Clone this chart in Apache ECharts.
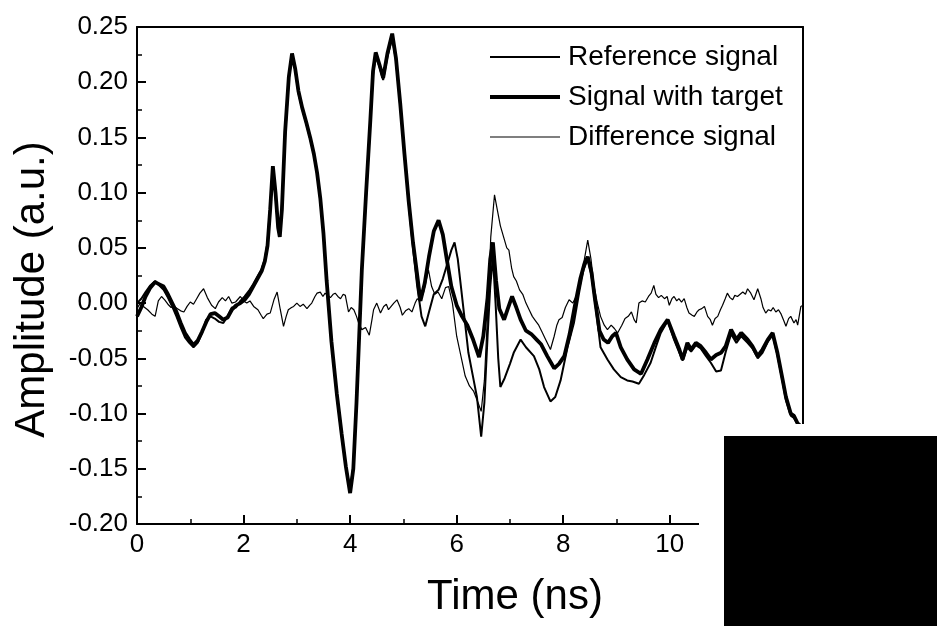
<!DOCTYPE html>
<html>
<head>
<meta charset="utf-8">
<script src="https://cdn.jsdelivr.net/npm/echarts@6/dist/echarts.min.js"></script>
<style>
  html, body { margin: 0; padding: 0; background: #fff; }
  #chart { width: 937px; height: 626px; }
</style>
</head>
<body>
<div id="chart"></div>
<script>
// Time samples (ns) and amplitudes (a.u.) for each trace
const targetTime = [0.00,0.08,0.16,0.25,0.34,0.42,0.50,0.58,0.66,0.74,0.82,0.90,0.98,1.06,1.14,1.22,1.30,1.38,1.46,1.54,1.62,1.70,1.78,1.86,1.94,2.02,2.10,2.18,2.26,2.34,2.40,2.45,2.50,2.55,2.60,2.65,2.68,2.72,2.78,2.85,2.91,2.97,3.03,3.10,3.18,3.25,3.32,3.38,3.44,3.50,3.56,3.65,3.75,3.84,3.92,4.00,4.06,4.12,4.17,4.22,4.30,4.38,4.43,4.48,4.55,4.62,4.70,4.79,4.86,4.94,5.02,5.10,5.18,5.26,5.32,5.40,5.48,5.57,5.66,5.74,5.82,5.90,6.00,6.10,6.20,6.30,6.42,6.50,6.58,6.63,6.68,6.74,6.80,6.89,6.96,7.04,7.12,7.20,7.30,7.40,7.50,7.58,7.70,7.83,7.92,8.02,8.12,8.22,8.32,8.40,8.46,8.53,8.60,8.68,8.76,8.84,8.92,8.99,9.08,9.20,9.33,9.46,9.58,9.71,9.83,9.96,10.08,10.18,10.24,10.33,10.40,10.49,10.58,10.68,10.77,10.87,10.96,11.05,11.15,11.25,11.34,11.46,11.55,11.65,11.74,11.84,11.93,12.02,12.12,12.18,12.27,12.33,12.40,12.45];
const targetAmp = [-0.012,-0.004,0.006,0.014,0.019,0.017,0.015,0.008,0.000,-0.008,-0.018,-0.027,-0.033,-0.038,-0.034,-0.026,-0.017,-0.010,-0.009,-0.012,-0.015,-0.013,-0.006,-0.002,0.000,0.003,0.008,0.015,0.022,0.029,0.038,0.052,0.085,0.124,0.100,0.068,0.060,0.085,0.155,0.205,0.226,0.212,0.192,0.177,0.163,0.150,0.135,0.118,0.095,0.063,0.020,-0.035,-0.082,-0.118,-0.148,-0.172,-0.150,-0.090,-0.030,0.030,0.100,0.166,0.210,0.227,0.216,0.204,0.226,0.244,0.222,0.181,0.135,0.092,0.055,0.025,0.002,0.018,0.042,0.065,0.075,0.062,0.038,0.015,-0.002,-0.012,-0.020,-0.032,-0.049,-0.030,0.005,0.040,0.055,0.020,-0.005,-0.015,-0.005,0.006,-0.004,-0.015,-0.025,-0.028,-0.033,-0.037,-0.048,-0.059,-0.055,-0.048,-0.028,-0.002,0.022,0.036,0.042,0.028,0.002,-0.025,-0.033,-0.036,-0.030,-0.027,-0.040,-0.051,-0.060,-0.064,-0.051,-0.036,-0.024,-0.015,-0.030,-0.042,-0.051,-0.036,-0.042,-0.036,-0.039,-0.045,-0.051,-0.047,-0.045,-0.039,-0.024,-0.033,-0.027,-0.033,-0.039,-0.048,-0.042,-0.033,-0.027,-0.045,-0.070,-0.085,-0.100,-0.102,-0.109,-0.111];

const referenceTime = [0.00,0.08,0.16,0.25,0.34,0.42,0.50,0.58,0.66,0.74,0.82,0.90,0.98,1.06,1.14,1.22,1.30,1.38,1.46,1.54,1.62,1.70,1.78,1.86,1.94,2.02,2.10,2.18,2.26,2.34,2.40,2.45,2.50,2.55,2.60,2.65,2.68,2.72,2.78,2.85,2.91,2.97,3.03,3.10,3.18,3.25,3.32,3.38,3.44,3.50,3.56,3.65,3.75,3.84,3.92,4.00,4.06,4.12,4.17,4.22,4.30,4.38,4.43,4.48,4.55,4.62,4.70,4.79,4.86,4.94,5.02,5.10,5.18,5.26,5.34,5.41,5.48,5.57,5.66,5.74,5.82,5.90,5.96,6.02,6.08,6.15,6.22,6.30,6.38,6.46,6.52,6.58,6.63,6.68,6.73,6.78,6.82,6.90,7.00,7.07,7.20,7.30,7.45,7.55,7.64,7.76,7.85,7.95,8.08,8.20,8.30,8.38,8.46,8.53,8.60,8.70,8.83,8.95,9.08,9.20,9.30,9.42,9.52,9.64,9.75,9.83,9.96,10.08,10.18,10.24,10.33,10.40,10.49,10.58,10.68,10.77,10.87,10.96,11.05,11.15,11.25,11.34,11.46,11.55,11.65,11.74,11.84,11.93,12.02,12.12,12.18,12.27,12.33,12.40,12.45];
const referenceAmp = [0.000,0.004,0.010,0.016,0.020,0.016,0.012,0.005,-0.003,-0.012,-0.022,-0.031,-0.036,-0.040,-0.036,-0.027,-0.015,-0.012,-0.014,-0.017,-0.018,-0.012,-0.004,-0.004,0.002,0.006,0.011,0.017,0.024,0.031,0.040,0.055,0.088,0.120,0.097,0.066,0.062,0.088,0.152,0.203,0.224,0.211,0.190,0.176,0.162,0.149,0.134,0.117,0.094,0.062,0.019,-0.036,-0.083,-0.120,-0.148,-0.168,-0.148,-0.088,-0.030,0.030,0.098,0.164,0.207,0.224,0.214,0.202,0.223,0.240,0.220,0.180,0.135,0.090,0.050,0.015,-0.012,-0.021,-0.008,0.008,0.012,0.022,0.035,0.048,0.055,0.040,0.015,-0.015,-0.045,-0.065,-0.085,-0.121,-0.090,-0.030,0.015,0.042,0.000,-0.050,-0.076,-0.068,-0.055,-0.045,-0.033,-0.040,-0.048,-0.060,-0.076,-0.089,-0.085,-0.070,-0.040,-0.018,0.010,0.030,0.040,0.025,0.000,-0.040,-0.051,-0.060,-0.067,-0.070,-0.071,-0.073,-0.065,-0.054,-0.038,-0.027,-0.016,-0.033,-0.045,-0.052,-0.040,-0.044,-0.038,-0.041,-0.048,-0.054,-0.062,-0.061,-0.044,-0.028,-0.036,-0.030,-0.036,-0.041,-0.050,-0.045,-0.035,-0.029,-0.047,-0.072,-0.088,-0.102,-0.104,-0.110,-0.112];

const differenceTime = [0.00,0.06,0.12,0.20,0.28,0.34,0.40,0.46,0.52,0.58,0.64,0.70,0.76,0.82,0.88,0.94,1.00,1.06,1.12,1.18,1.25,1.32,1.40,1.47,1.53,1.60,1.66,1.72,1.78,1.85,1.94,2.00,2.06,2.12,2.19,2.27,2.33,2.37,2.44,2.50,2.57,2.63,2.69,2.75,2.80,2.84,2.90,2.94,3.00,3.06,3.12,3.19,3.24,3.28,3.34,3.38,3.44,3.49,3.53,3.58,3.63,3.68,3.72,3.77,3.82,3.87,3.91,3.97,4.02,4.07,4.12,4.16,4.22,4.29,4.36,4.41,4.44,4.50,4.57,4.63,4.68,4.72,4.77,4.82,4.88,4.94,4.98,5.04,5.10,5.16,5.22,5.26,5.32,5.38,5.47,5.53,5.59,5.65,5.72,5.79,5.85,5.92,6.00,6.08,6.16,6.24,6.32,6.40,6.46,6.52,6.58,6.64,6.71,6.76,6.82,6.88,6.94,6.98,7.03,7.07,7.12,7.18,7.24,7.30,7.36,7.42,7.48,7.54,7.60,7.66,7.72,7.76,7.83,7.88,7.92,7.98,8.04,8.11,8.18,8.24,8.30,8.38,8.46,8.52,8.58,8.64,8.70,8.77,8.83,8.90,8.96,9.02,9.10,9.16,9.22,9.28,9.33,9.37,9.42,9.48,9.54,9.60,9.65,9.70,9.74,9.79,9.84,9.90,9.95,9.99,10.04,10.08,10.13,10.17,10.22,10.27,10.32,10.36,10.42,10.46,10.51,10.55,10.60,10.65,10.71,10.76,10.80,10.85,10.90,10.95,10.99,11.04,11.08,11.13,11.18,11.22,11.27,11.32,11.37,11.42,11.46,11.52,11.58,11.65,11.71,11.75,11.80,11.85,11.90,11.94,11.99,12.04,12.09,12.14,12.18,12.23,12.27,12.33,12.37,12.40,12.46,12.50];
const differenceAmp = [-0.005,0.000,-0.003,-0.006,-0.010,-0.012,0.002,0.006,0.003,-0.001,-0.004,-0.003,-0.005,-0.007,-0.008,-0.003,0.001,-0.001,0.004,0.009,0.013,0.005,-0.002,-0.005,0.001,0.005,0.002,0.006,0.000,0.001,0.006,0.002,0.000,0.002,-0.003,-0.006,-0.011,-0.014,-0.010,-0.009,0.003,0.010,-0.006,-0.021,-0.012,-0.006,-0.004,-0.003,0.000,-0.003,-0.001,-0.005,-0.002,0.000,0.006,0.009,0.010,0.006,0.009,0.007,0.005,0.008,0.009,0.006,0.004,0.008,0.007,-0.008,-0.004,-0.006,-0.012,-0.018,-0.024,-0.022,-0.029,-0.015,-0.006,0.000,-0.009,-0.003,-0.001,-0.006,-0.003,0.000,0.003,-0.004,-0.011,-0.007,-0.005,-0.008,0.000,0.004,0.002,0.010,0.030,0.015,0.008,0.010,0.004,0.014,0.015,0.000,-0.030,-0.048,-0.066,-0.075,-0.080,-0.090,-0.098,-0.070,-0.010,0.060,0.098,0.085,0.070,0.060,0.050,0.048,0.032,0.024,0.020,0.012,0.008,0.000,-0.006,-0.012,-0.016,-0.020,-0.026,-0.032,-0.038,-0.042,-0.030,-0.020,-0.015,-0.013,-0.004,0.003,0.000,0.006,0.012,0.035,0.057,0.040,0.015,0.000,-0.012,-0.020,-0.024,-0.020,-0.023,-0.027,-0.020,-0.014,-0.012,-0.008,-0.015,-0.018,0.000,0.002,0.001,0.006,0.009,0.016,0.008,0.005,0.007,0.004,0.006,-0.002,0.004,0.006,0.002,0.004,0.001,0.004,-0.004,-0.009,-0.011,-0.012,-0.008,-0.006,-0.005,-0.003,-0.012,-0.015,-0.020,-0.014,-0.012,-0.006,-0.002,0.004,0.009,0.005,0.003,0.007,0.006,0.008,0.010,0.008,0.013,0.009,0.003,0.013,0.004,-0.004,-0.009,-0.006,-0.007,-0.004,-0.008,-0.006,-0.010,-0.016,-0.021,-0.014,-0.012,-0.018,-0.015,-0.020,-0.003,-0.002];

const seriesNames = ['Reference signal', 'Signal with target', 'Difference signal'];
const timeTicks = { min: 0, max: 12.5, step: 2 };
const ampTicks = { min: -0.2, max: 0.25, step: 0.05 };

function zipPoints(t, v) { return t.map((x, i) => [x, v[i]]); }

const FONT = '"Liberation Sans", Arial, Helvetica, sans-serif';
const INK = '#000';

const chart = echarts.init(document.getElementById('chart'), null, { renderer: 'canvas' });

// plain frame lines on the top and right sides of the plot
const frameAxis = {
  type: 'value',
  axisLine: { show: true, onZero: false, lineStyle: { color: INK, width: 2 } },
  axisTick: { show: false },
  axisLabel: { show: false },
  splitLine: { show: false }
};

chart.setOption({
  backgroundColor: '#fff',
  animation: false,
  grid: { left: 137, top: 27, width: 666, height: 497 },
  legend: {
    orient: 'vertical',
    left: 490,
    top: 43,
    padding: 0,
    itemWidth: 70,
    itemHeight: 12,
    itemGap: 12,
    textStyle: { fontFamily: FONT, fontSize: 28, color: INK, lineHeight: 28, padding: [0, 0, 0, 3] },
    data: [
      { name: seriesNames[0], icon: 'path://M0,0 L70,0 L70,2 L0,2 Z', itemStyle: { color: INK } },
      { name: seriesNames[1], icon: 'path://M0,0 L70,0 L70,3.8 L0,3.8 Z', itemStyle: { color: INK } },
      { name: seriesNames[2], icon: 'path://M0,0 L70,0 L70,1.2 L0,1.2 Z', itemStyle: { color: INK } }
    ]
  },
  xAxis: [
    {
      type: 'value',
      min: timeTicks.min,
      max: timeTicks.max,
      interval: timeTicks.step,
      axisLine: { show: true, onZero: false, lineStyle: { color: INK, width: 2 } },
      axisTick: { show: true, inside: true, length: 9, lineStyle: { color: INK, width: 2 } },
      minorTick: { show: true, splitNumber: 2, length: 5, lineStyle: { color: INK, width: 1.5 } },
      splitLine: { show: false },
      axisLabel: { fontFamily: FONT, fontSize: 26, color: INK, margin: 8, showMaxLabel: false },
      name: 'Time (ns)',
      nameLocation: 'middle',
      nameGap: 52,
      nameTextStyle: { fontFamily: FONT, fontSize: 42, color: INK, padding: [0, 0, 0, 90] }
    },
    Object.assign({ position: 'top', min: timeTicks.min, max: timeTicks.max }, frameAxis)
  ],
  yAxis: [
    {
      type: 'value',
      min: ampTicks.min,
      max: ampTicks.max,
      interval: ampTicks.step,
      axisLine: { show: true, onZero: false, lineStyle: { color: INK, width: 2 } },
      axisTick: { show: true, inside: true, length: 9, lineStyle: { color: INK, width: 2 } },
      minorTick: { show: true, splitNumber: 2, length: 5, lineStyle: { color: INK, width: 1.5 } },
      splitLine: { show: false },
      axisLabel: {
        fontFamily: FONT, fontSize: 26, color: INK, margin: 9,
        formatter: v => (Math.abs(v) < 1e-9 ? 0 : v).toFixed(2)
      },
      name: 'Amplitude (a.u.)',
      nameLocation: 'middle',
      nameGap: 84,
      nameTextStyle: { fontFamily: FONT, fontSize: 42, color: INK, padding: [0, 28, 0, 0] }
    },
    Object.assign({ position: 'right', min: ampTicks.min, max: ampTicks.max }, frameAxis)
  ],
  series: [
    {
      name: seriesNames[0], type: 'line', symbol: 'none', showSymbol: false,
      lineStyle: { color: INK, width: 2 }, itemStyle: { color: INK },
      data: zipPoints(referenceTime, referenceAmp), z: 3
    },
    {
      name: seriesNames[1], type: 'line', symbol: 'none', showSymbol: false,
      lineStyle: { color: INK, width: 3.8 }, itemStyle: { color: INK },
      data: zipPoints(targetTime, targetAmp), z: 4
    },
    {
      name: seriesNames[2], type: 'line', symbol: 'none', showSymbol: false,
      lineStyle: { color: INK, width: 1.2 }, itemStyle: { color: INK },
      data: zipPoints(differenceTime, differenceAmp), z: 2
    }
  ],
  graphic: [
    { type: 'rect', z: 100, shape: { x: 699, y: 424, width: 238, height: 202 }, style: { fill: '#fff' } },
    { type: 'rect', z: 101, shape: { x: 724, y: 436, width: 213, height: 190 }, style: { fill: '#000' } }
  ]
});
</script>
</body>
</html>
